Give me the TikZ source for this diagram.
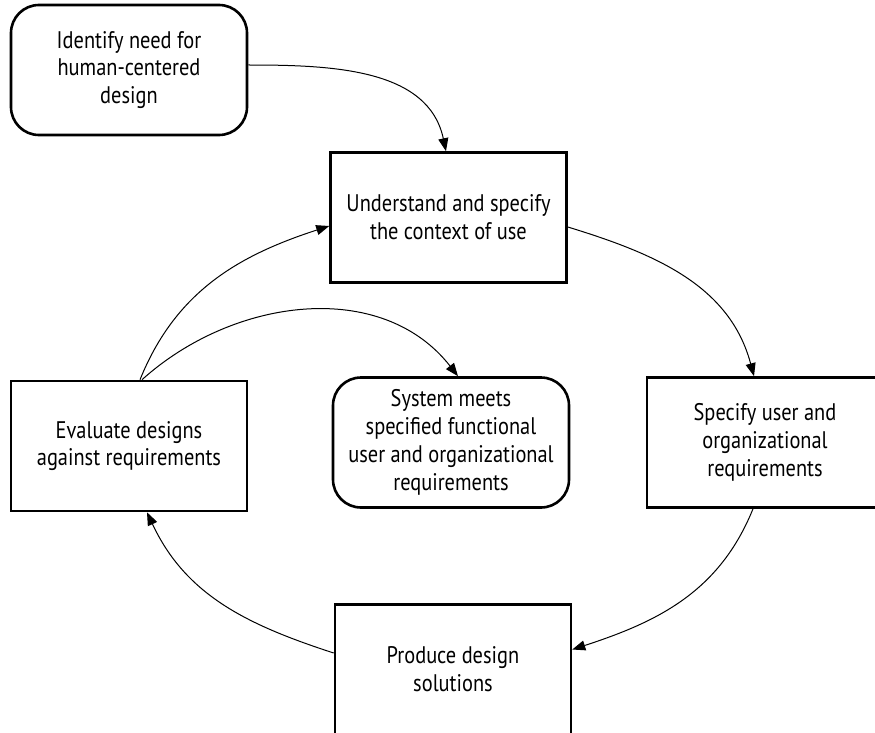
\documentclass[tikz,border=0pt]{standalone}
\usepackage{fontspec}
\setmainfont{PT Sans}[FakeStretch=0.85]
\usetikzlibrary{arrows.meta}
\begin{document}
\begin{tikzpicture}[x=1pt,y=-1pt,
  font=\fontsize{24}{27.8}\selectfont,
  stepbox/.style={draw, line width=2.6pt, minimum width=236pt, minimum height=130pt,
    align=center, inner sep=0pt},
  roundbox/.style={stepbox, rounded corners=28pt},
  flow/.style={line width=1pt, -{Triangle[length=13pt,width=10pt]}}]
\useasboundingbox (0,0) rectangle (875,733);
\clip (0,0) rectangle (875,733);

\node[roundbox] (ident) at (129,70) {Identify need for\\human-centered\\design};
\node[stepbox]  (under) at (448.5,217.5) {Understand and specify\\the context of use};
\node[stepbox]  (spec)  at (765,442.5) {Specify user and\\organizational\\requirements};
\node[stepbox]  (prod)  at (453,669.5) {Produce design\\solutions};
\node[stepbox]  (eval)  at (129,446) {Evaluate designs\\against requirements};
\node[roundbox] (sys)   at (451,442.5) {System meets\\specified functional\\user and organizational\\requirements};

\draw[flow] ([yshift=5pt]ident.east) to[out=0, in=102] ([xshift=-2.5pt]under.north);
\draw[flow] ([yshift=-9.5pt]under.east) to[out=-17, in=105] ([xshift=-11pt]spec.north);
\draw[flow] ([xshift=-12pt]spec.south) to[out=-112, in=18] ([yshift=20pt]prod.east);
\draw[flow] ([yshift=16.5pt]prod.west) to[out=162, in=-65] ([xshift=18pt]eval.south);
\draw[flow] ([xshift=11pt]eval.north) to[out=68, in=198] ([yshift=-8.5pt]under.west);
\draw[flow] ([xshift=13pt]eval.north) to[out=42, in=128] ([xshift=7pt]sys.north);
\end{tikzpicture}
\end{document}
